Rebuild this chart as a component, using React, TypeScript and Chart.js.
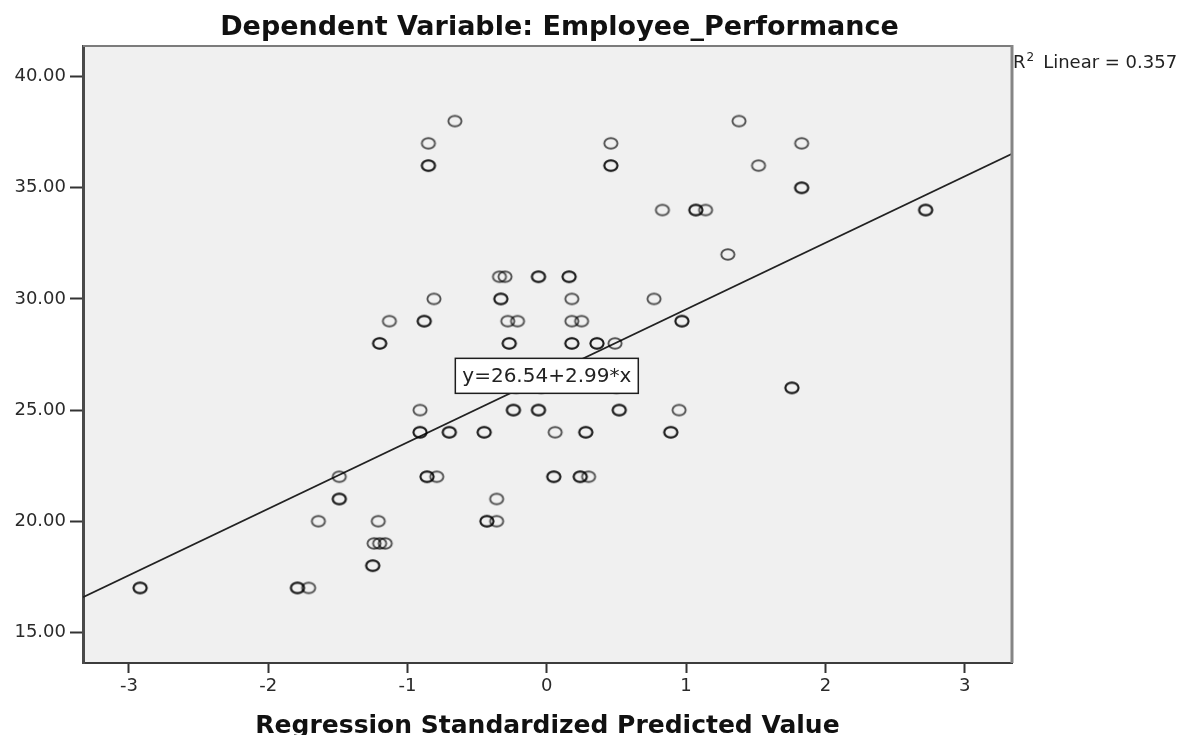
import React, { useEffect, useRef } from "react";
import { Chart, registerables } from "chart.js";

Chart.register(...registerables);

// Regression Standardized Predicted Value (x) and Employee_Performance (y)
const predicted = [
  -0.66, 1.38,
  -0.85, 0.46, 1.83,
  -0.85, -0.85, 0.46, 0.46, 1.52,
  1.83, 1.83,
  0.83, 1.07, 1.07, 1.14, 2.72, 2.72,
  1.30,
  -0.34, -0.30, -0.06, -0.06, 0.16, 0.16,
  -0.81, -0.33, -0.33, 0.18, 0.77,
  -1.13, -0.88, -0.88, -0.28, -0.21, 0.18, 0.25, 0.97, 0.97,
  -1.20, -1.20, -0.27, -0.27, 0.18, 0.18, 0.36, 0.36, 0.49,
  -0.22, -0.04, 0.50, 1.76, 1.76,
  -0.91, -0.24, -0.24, -0.06, -0.06, 0.52, 0.52, 0.95,
  -0.91, -0.91, -0.70, -0.70, -0.45, -0.45, 0.06, 0.28, 0.28, 0.89, 0.89,
  -1.49, -0.86, -0.86, -0.79, 0.05, 0.05, 0.24, 0.24, 0.30,
  -1.49, -1.49, -0.36,
  -1.64, -1.21, -0.43, -0.43, -0.36,
  -1.24, -1.20, -1.16,
  -1.25, -1.25,
  -2.92, -2.92, -1.79, -1.79, -1.71,
];

const performance = [
  38, 38,
  37, 37, 37,
  36, 36, 36, 36, 36,
  35, 35,
  34, 34, 34, 34, 34, 34,
  32,
  31, 31, 31, 31, 31, 31,
  30, 30, 30, 30, 30,
  29, 29, 29, 29, 29, 29, 29, 29, 29,
  28, 28, 28, 28, 28, 28, 28, 28, 28,
  26, 26, 26, 26, 26,
  25, 25, 25, 25, 25, 25, 25, 25,
  24, 24, 24, 24, 24, 24, 24, 24, 24, 24, 24,
  22, 22, 22, 22, 22, 22, 22, 22, 22,
  21, 21, 21,
  20, 20, 20, 20, 20,
  19, 19, 19,
  18, 18,
  17, 17, 17, 17, 17,
];

const xTicks = [-3, -2, -1, 0, 1, 2, 3];
const yTicks = [15, 20, 25, 30, 35, 40];
const xRange = [-3.33, 3.34];
const yRange = [13.62, 41.38];

const INTERCEPT = 26.54;
const SLOPE = 2.99;
const R_SQUARED = 0.357;

const TITLE = "Dependent Variable: Employee_Performance";
const X_TITLE = "Regression Standardized Predicted Value";
const FONT = '"DejaVu Sans", "Liberation Sans", Arial, sans-serif';

function makeMarker(): HTMLCanvasElement {
  const c = document.createElement("canvas");
  c.width = 18;
  c.height = 15;
  const g = c.getContext("2d")!;
  g.strokeStyle = "rgba(0,0,0,0.66)";
  g.lineWidth = 1.9;
  g.beginPath();
  g.ellipse(9, 7.5, 6.6, 5.3, 0, 0, Math.PI * 2);
  g.stroke();
  return c;
}

const decorPlugin = {
  id: "decor",
  beforeDraw(chart: any) {
    const { ctx, chartArea: a } = chart;
    ctx.save();
    ctx.fillStyle = "#ffffff";
    ctx.fillRect(0, 0, chart.width, chart.height);
    ctx.fillStyle = "#f0f0f0";
    ctx.fillRect(a.left, a.top, a.right - a.left, a.bottom - a.top);
    ctx.restore();
  },
  afterDraw(chart: any) {
    const { ctx, chartArea: a, scales } = chart;
    ctx.save();
    // top and right frame
    ctx.strokeStyle = "#7c7c7c";
    ctx.lineWidth = 2;
    ctx.beginPath();
    ctx.moveTo(a.left, a.top);
    ctx.lineTo(a.right, a.top);
    ctx.stroke();
    ctx.strokeStyle = "#858585";
    ctx.lineWidth = 3;
    ctx.beginPath();
    ctx.moveTo(a.right, a.top - 1);
    ctx.lineTo(a.right, a.bottom);
    ctx.stroke();

    // equation box centred on (0, intercept)
    const eq = `y=${INTERCEPT.toFixed(2)}+${SLOPE.toFixed(2)}*x`;
    ctx.font = `20px ${FONT}`;
    const tw = ctx.measureText(eq).width;
    const cx = scales.x.getPixelForValue(0);
    const cy = scales.y.getPixelForValue(INTERCEPT);
    const bw = tw + 14;
    const bh = 35;
    ctx.fillStyle = "#ffffff";
    ctx.fillRect(cx - bw / 2, cy - bh / 2, bw, bh);
    ctx.strokeStyle = "#1e1e1e";
    ctx.lineWidth = 1.5;
    ctx.strokeRect(cx - bw / 2, cy - bh / 2, bw, bh);
    ctx.fillStyle = "#222";
    ctx.textAlign = "center";
    ctx.textBaseline = "middle";
    ctx.fillText(eq, cx, cy + 1);

    // title
    ctx.font = `bold 27px ${FONT}`;
    ctx.fillStyle = "#111";
    ctx.textAlign = "center";
    ctx.textBaseline = "alphabetic";
    ctx.fillText(TITLE, (a.left + a.right) / 2 + 12, 35);

    // R² label
    const x0 = a.right + 1;
    const base = 68;
    ctx.textAlign = "left";
    ctx.fillStyle = "#222";
    ctx.font = `18px ${FONT}`;
    ctx.fillText("R", x0, base);
    const rw = ctx.measureText("R").width;
    ctx.font = `12px ${FONT}`;
    ctx.fillText("2", x0 + rw + 1, base - 7);
    const sw = ctx.measureText("2").width;
    ctx.font = `18px ${FONT}`;
    ctx.fillText(`Linear = ${R_SQUARED.toFixed(3)}`, x0 + rw + sw + 10, base);
    ctx.restore();
  },
};

export default function App() {
  const ref = useRef<HTMLCanvasElement | null>(null);

  useEffect(() => {
    if (!ref.current) return;
    Chart.defaults.font.family = FONT;
    const marker = makeMarker();
    const points = predicted.map((x, i) => ({ x, y: performance[i] }));
    const fitLine = xRange.map((x) => ({ x, y: INTERCEPT + SLOPE * x }));

    const chart = new Chart(ref.current, {
      type: "scatter",
      data: {
        datasets: [
          {
            type: "line",
            data: fitLine,
            borderColor: "#222",
            borderWidth: 1.7,
            pointRadius: 0,
            fill: false,
            order: 2,
          } as any,
          {
            data: points,
            pointStyle: marker as any,
            pointRadius: 7,
            order: 1,
          },
        ],
      },
      options: {
        animation: false,
        responsive: false,
        devicePixelRatio: 1,
        events: [],
        layout: { padding: { left: 0, top: 46, right: 172, bottom: 0 } },
        plugins: {
          legend: { display: false },
          tooltip: { enabled: false },
          title: { display: false },
        },
        scales: {
          x: {
            type: "linear",
            min: xRange[0],
            max: xRange[1],
            afterBuildTicks: (s: any) => {
              s.ticks = xTicks.map((v) => ({ value: v }));
            },
            afterFit: (s: any) => {
              s.height = 72;
            },
            ticks: {
              color: "#2a2a2a",
              font: { size: 18 },
              padding: 3,
              callback: (v: any) => String(v),
            },
            grid: {
              display: true,
              drawOnChartArea: false,
              drawTicks: true,
              tickLength: 10,
              tickWidth: 2,
              tickColor: "#333",
            },
            border: { display: true, color: "#3c3c3c", width: 2 },
            title: {
              display: true,
              text: X_TITLE,
              color: "#111",
              font: { size: 25, weight: "bold" },
              padding: { top: 0, bottom: -6 },
            },
          },
          y: {
            type: "linear",
            min: yRange[0],
            max: yRange[1],
            afterBuildTicks: (s: any) => {
              s.ticks = yTicks.map((v) => ({ value: v }));
            },
            afterFit: (s: any) => {
              s.width = 83;
            },
            ticks: {
              color: "#2a2a2a",
              font: { size: 18 },
              padding: 4,
              callback: (v: any) => Number(v).toFixed(2),
            },
            grid: {
              display: true,
              drawOnChartArea: false,
              drawTicks: true,
              tickLength: 13,
              tickWidth: 2,
              tickColor: "#333",
            },
            border: { display: true, color: "#4a4a4a", width: 3 },
          },
        },
      },
      plugins: [decorPlugin],
    });
    return () => chart.destroy();
  }, []);

  return (
    <div style={{ position: "absolute", left: 0, top: 0, width: 1184, height: 735 }}>
      <canvas ref={ref} width={1184} height={735} style={{ display: "block" }} />
    </div>
  );
}
